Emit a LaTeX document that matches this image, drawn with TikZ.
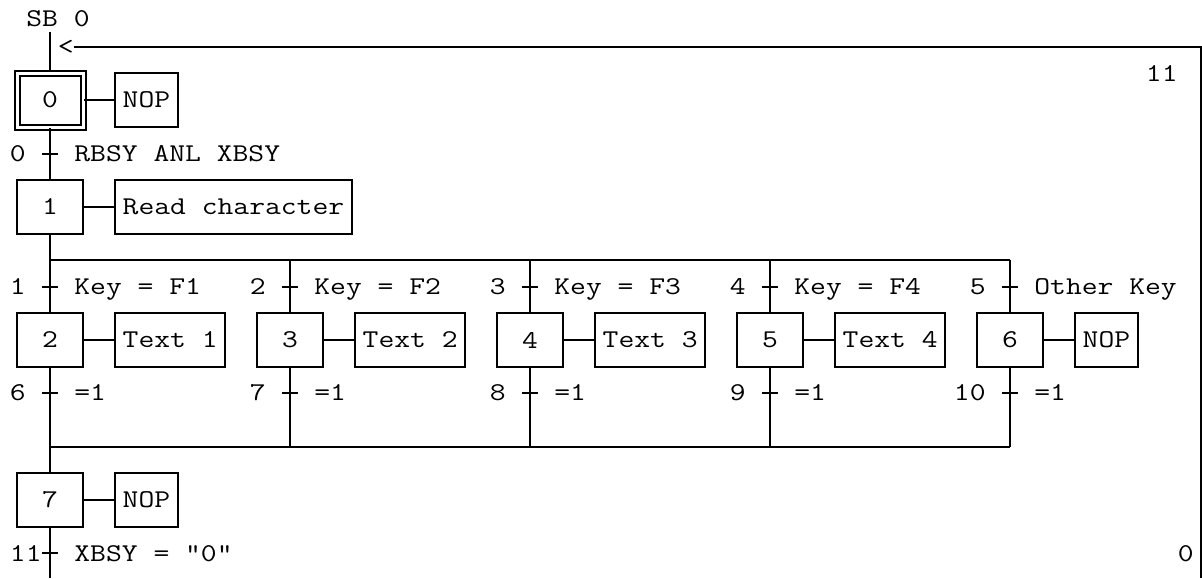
\documentclass[tikz,border=0pt]{standalone}
\usepackage{fontspec}
\setmainfont{Latin Modern Mono}[FakeStretch=1.2]
\usepackage{tikz}
\usetikzlibrary{positioning, calc}

\begin{document}
\begin{tikzpicture}[
    x=0.5pt, y=-0.5pt,
    every node/.style={font=\fontsize{12.8pt}{15pt}\selectfont},
    stepbox/.style={draw, line width=1pt, minimum width=33pt, minimum height=27pt, inner sep=0pt},
    initstep/.style={stepbox, double, double distance=1.5pt},
    act/.style={draw, line width=1pt, minimum height=27pt, inner xsep=3.85pt, inner ysep=0pt, anchor=west},
    trans/.style={fill=black, minimum width=7.8pt, minimum height=1pt, inner sep=0pt},
    tnum/.style={anchor=base east, inner sep=0pt},
    cond/.style={anchor=base west, inner sep=0pt},
    lnk/.style={line width=1pt},
  ]
  \useasboundingbox (0,0) rectangle (1202,578);

  % initial step and entry
  \node[anchor=base west, inner sep=0pt] (sb) at (26,26.5) {SB 0};
  \coordinate (top) at (50,32);
  \node[anchor=east, inner sep=0pt] (lt) at (74,47) {<};
  \node[initstep] (s0) at (50,100) {0};
  \node[act] (a0) at (114,100) {NOP};
  \node[trans] (t0) at (50,154) {};
  \node[tnum] (n0) at (26,161.5) {0};
  \node[cond] (c0) at (74,161.5) {RBSY ANL XBSY};

  \node[stepbox] (s1) at (50,207) {1};
  \node[act] (a1) at (114,207) {Read character};

  % divergence
  \coordinate (b1) at (50,260);
  \coordinate (b2) at (290,260);
  \coordinate (b3) at (530,260);
  \coordinate (b4) at (770,260);
  \coordinate (b5) at (1010,260);

  \node[trans] (t1) at (50,287) {};
  \node[trans] (t2) at (290,287) {};
  \node[trans] (t3) at (530,287) {};
  \node[trans] (t4) at (770,287) {};
  \node[trans] (t5) at (1010,287) {};
  \node[tnum] (n1) at (26,294.5) {1};
  \node[tnum] (n2) at (266,294.5) {2};
  \node[tnum] (n3) at (506,294.5) {3};
  \node[tnum] (n4) at (746,294.5) {4};
  \node[tnum] (n5) at (986,294.5) {5};
  \node[cond] (c1) at (74,294.5) {Key = F1};
  \node[cond] (c2) at (314,294.5) {Key = F2};
  \node[cond] (c3) at (554,294.5) {Key = F3};
  \node[cond] (c4) at (794,294.5) {Key = F4};
  \node[cond] (c5) at (1034,294.5) {Other Key};

  \node[stepbox] (s2) at (50,340) {2};
  \node[stepbox] (s3) at (290,340) {3};
  \node[stepbox] (s4) at (530,340) {4};
  \node[stepbox] (s5) at (770,340) {5};
  \node[stepbox] (s6) at (1010,340) {6};
  \node[act] (a2) at (114,340) {Text 1};
  \node[act] (a3) at (354,340) {Text 2};
  \node[act] (a4) at (594,340) {Text 3};
  \node[act] (a5) at (834,340) {Text 4};
  \node[act] (a6) at (1074,340) {NOP};

  \node[trans] (t6) at (50,393) {};
  \node[trans] (t7) at (290,393) {};
  \node[trans] (t8) at (530,393) {};
  \node[trans] (t9) at (770,393) {};
  \node[trans] (t10) at (1010,393) {};
  \node[tnum] (n6) at (26,400.5) {6};
  \node[tnum] (n7) at (266,400.5) {7};
  \node[tnum] (n8) at (506,400.5) {8};
  \node[tnum] (n9) at (746,400.5) {9};
  \node[tnum] (n10) at (986,400.5) {10};
  \node[cond] (c6) at (74,400.5) {=1};
  \node[cond] (c7) at (314,400.5) {=1};
  \node[cond] (c8) at (554,400.5) {=1};
  \node[cond] (c9) at (794,400.5) {=1};
  \node[cond] (c10) at (1034,400.5) {=1};

  % convergence
  \coordinate (j1) at (50,447);
  \coordinate (j2) at (290,447);
  \coordinate (j3) at (530,447);
  \coordinate (j4) at (770,447);
  \coordinate (j5) at (1010,447);

  \node[stepbox] (s7) at (50,500) {7};
  \node[act] (a7) at (114,500) {NOP};
  \node[trans] (t11) at (50,553) {};
  \node[tnum] (n11) at (42,561.5) {11};
  \node[cond] (c11) at (74,561.5) {XBSY = "0"};
  \coordinate (bot) at (50,578);

  % loop back
  \coordinate (lpb) at (1201,578);
  \coordinate (lpt) at (1201,47);
  \node[tnum] (l11) at (1178,81) {11};
  \node[tnum] (l0) at (1194,561.5) {0};

  % links
  \draw[lnk] (top) -- (s0);
  \draw[lnk] (s0) -- (a0);
  \draw[lnk] (s0) -- (t0) -- (s1);
  \draw[lnk] (s1) -- (a1);
  \draw[lnk] (s1) -- (b1) -- (b5);
  \draw[lnk] (b1) -- (t1) -- (s2);
  \draw[lnk] (b2) -- (t2) -- (s3);
  \draw[lnk] (b3) -- (t3) -- (s4);
  \draw[lnk] (b4) -- (t4) -- (s5);
  \draw[lnk] (b5) -- (t5) -- (s6);
  \draw[lnk] (s2) -- (a2);
  \draw[lnk] (s3) -- (a3);
  \draw[lnk] (s4) -- (a4);
  \draw[lnk] (s5) -- (a5);
  \draw[lnk] (s6) -- (a6);
  \draw[lnk] (s2) -- (t6) -- (j1);
  \draw[lnk] (s3) -- (t7) -- (j2);
  \draw[lnk] (s4) -- (t8) -- (j3);
  \draw[lnk] (s5) -- (t9) -- (j4);
  \draw[lnk] (s6) -- (t10) -- (j5);
  \draw[lnk] (j5) -- (j1) -- (s7);
  \draw[lnk] (s7) -- (a7);
  \draw[lnk] (s7) -- (t11) -- (bot);
  \draw[lnk] (lpb) -- (lpt) -- (lt);
\end{tikzpicture}
\end{document}
